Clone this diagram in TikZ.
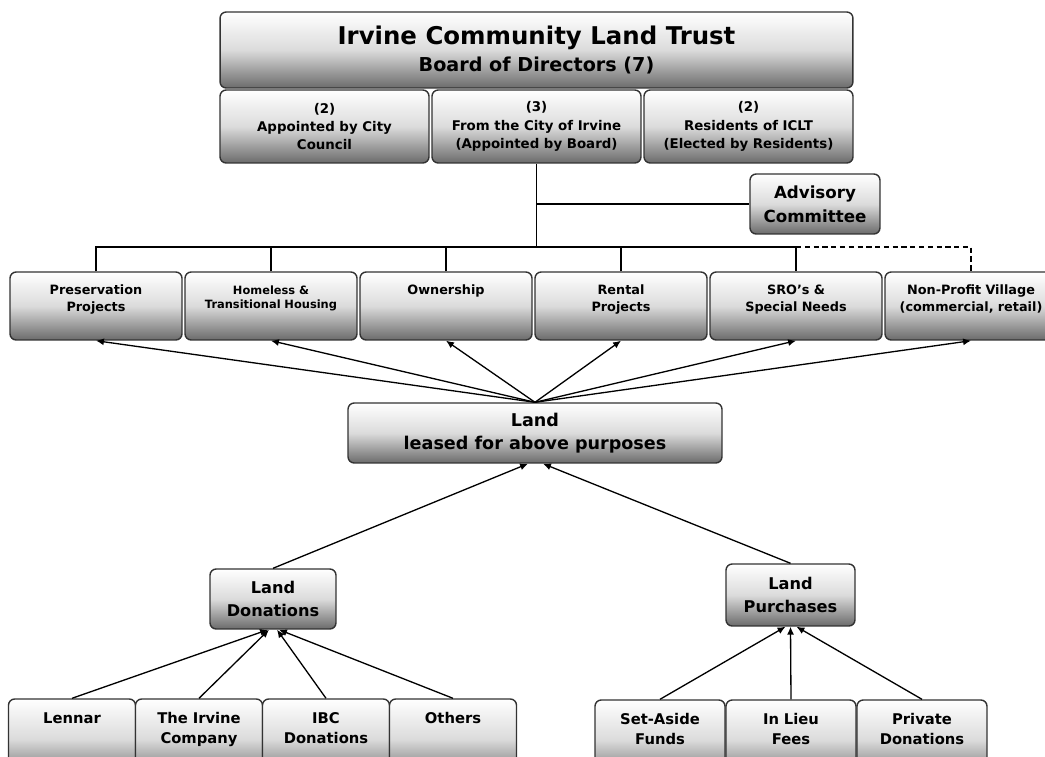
\documentclass[tikz,border=0pt]{standalone}
\usepackage{fontspec}
\setmainfont{DejaVu Sans}
\usetikzlibrary{positioning,arrows.meta,calc}

\begin{document}
\begin{tikzpicture}[x=0.02cm,y=-0.02cm,
  box/.style={draw=black!80,line width=0.8pt,rounded corners=3.5pt,
    top color=white,bottom color=black!58,middle color=black!14,
    align=center,inner sep=0pt,font=\bfseries},
  topped/.style={text width=2.4cm,text height=0.16cm,text depth=#1},
  line/.style={line width=0.75pt},
  arr/.style={line width=0.75pt,-{Latex[length=4.5pt,width=4pt]}}]
  \useasboundingbox (0,0) rectangle (1045,757);

  % board
  \node[box,minimum width=12.66cm,minimum height=1.52cm,font=\bfseries\fontsize{10.9}{15.3}\selectfont] (board) at (536.5,50)
    {{\fontsize{13.9}{15.3}\selectfont Irvine Community Land Trust}\\Board of Directors (7)};
  \node[box,minimum width=4.18cm,minimum height=1.46cm,font=\bfseries\fontsize{7.6}{10.5}\selectfont] (dirA) at (324.5,126.5)
    {(2)\\Appointed by City\\Council};
  \node[box,minimum width=4.18cm,minimum height=1.46cm,font=\bfseries\fontsize{7.6}{10.5}\selectfont] (dirB) at (536.5,126.5)
    {(3)\\From the City of Irvine\\(Appointed by Board)};
  \node[box,minimum width=4.18cm,minimum height=1.46cm,font=\bfseries\fontsize{7.6}{10.5}\selectfont] (dirC) at (748.5,126.5)
    {(2)\\Residents of ICLT\\(Elected by Residents)};
  \node[box,minimum width=2.6cm,minimum height=1.2cm,font=\bfseries\fontsize{9.5}{13.6}\selectfont] (advisory) at (815,204)
    {Advisory\\Committee};

  % programs
  \begin{scope}[every node/.append style={box,topped=0.64cm,text width=3.2cm,minimum width=3.44cm,minimum height=1.36cm,font=\bfseries\fontsize{7.3}{10.2}\selectfont}]
    \node (preserve) at (96,306) {Preservation\\Projects};
    \node[font=\bfseries\fontsize{6.5}{8.5}\selectfont] (homeless) at (271,306) {Homeless \&\\Transitional Housing};
    \node (owner) at (446,306) {Ownership};
    \node (rental) at (621,306) {Rental\\Projects};
    \node (sro) at (796,306) {SRO's \&\\Special Needs};
    \node (village) at (971,306) {Non-Profit Village\\(commercial, retail)};
  \end{scope}

  \coordinate (bus) at (536.5,247);
  \draw[line] (dirB.south) -- (bus);
  \draw[line] (dirB.south |- advisory.west) -- (advisory.west);
  \draw[line] (preserve.north) |- (sro.north |- bus) -- (sro.north);
  \foreach \n in {homeless,owner,rental}
    \draw[line] (\n.north) -- (\n.north |- bus);
  \draw[line,dash pattern=on 3pt off 2pt] (sro.north |- bus) -| (village.north);

  % land
  \node[box,minimum width=7.48cm,minimum height=1.2cm,font=\bfseries\fontsize{10}{13}\selectfont] (land) at (535,433)
    {Land\\leased for above purposes};
  \foreach \n in {preserve,homeless,owner,rental,sro,village}
    \draw[arr] (land.north) -- (\n.south);

  \node[box,minimum width=2.52cm,minimum height=1.2cm,font=\bfseries\fontsize{9.2}{13}\selectfont] (donate) at (273,599)
    {Land\\Donations};
  \node[box,minimum width=2.58cm,minimum height=1.24cm,font=\bfseries\fontsize{9.2}{13}\selectfont] (purchase) at (790.5,595)
    {Land\\Purchases};
  \draw[arr] (donate.north) -- ($(land.south)+(-7,0)$);
  \draw[arr] (purchase.north) -- ($(land.south)+(8,0)$);

  % sources
  \begin{scope}[every node/.append style={box,topped=0.8cm,minimum height=1.6cm,font=\bfseries\fontsize{8.4}{11.9}\selectfont}]
    \node[minimum width=2.54cm] (lennar) at (72,739) {Lennar};
    \node[minimum width=2.54cm] (irvineco) at (199,739) {The Irvine\\Company};
    \node[minimum width=2.54cm] (ibc) at (326,739) {IBC\\Donations};
    \node[minimum width=2.54cm] (others) at (453,739) {Others};
    \node[minimum width=2.6cm] (setaside) at (660,740) {Set-Aside\\Funds};
    \node[minimum width=2.6cm] (inlieu) at (791,740) {In Lieu\\Fees};
    \node[minimum width=2.6cm] (private) at (922,740) {Private\\Donations};
  \end{scope}

  \foreach \n/\dx in {lennar/-5,irvineco/-4,ibc/4,others/6}
    \draw[arr] (\n.north) -- ($(donate.south)+(\dx,0)$);
  \foreach \n/\dx in {setaside/-5,inlieu/0,private/6}
    \draw[arr] (\n.north) -- ($(purchase.south)+(\dx,0)$);
\end{tikzpicture}
\end{document}
